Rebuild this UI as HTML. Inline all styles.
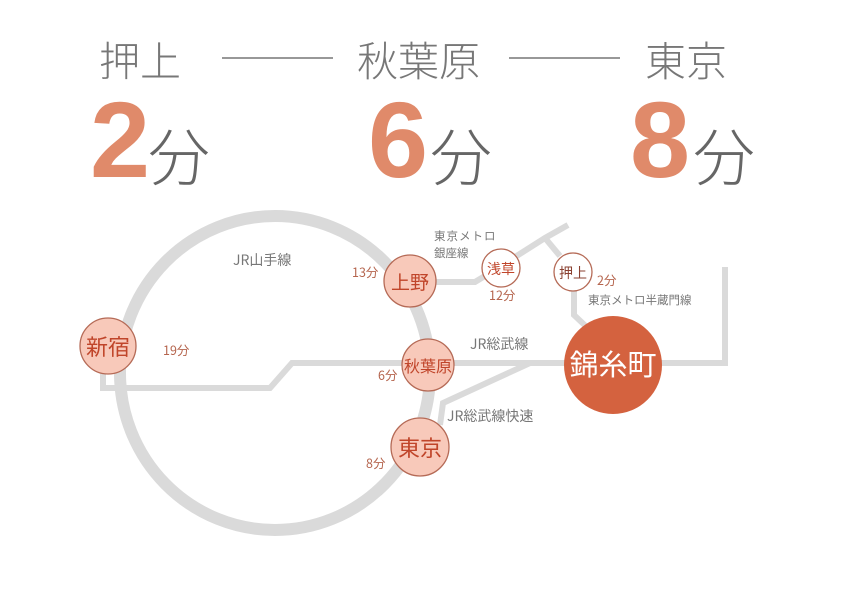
<!DOCTYPE html>
<html><head><meta charset="utf-8"><style>
html,body{margin:0;padding:0;background:#fff;}
svg{display:block;font-family:"Liberation Sans","Noto Sans CJK JP",sans-serif;}
</style></head><body>
<svg width="842" height="595" viewBox="0 0 842 595" xmlns="http://www.w3.org/2000/svg">
<rect width="842" height="595" fill="#fff"/>
<!-- header -->
<g fill="#777" font-size="41" font-family="'Noto Sans CJK JP',sans-serif" font-weight="300">
<text x="99" y="76">押上</text>
<text x="357" y="76">秋葉原</text>
<text x="645" y="76">東京</text>
</g>
<line x1="222" y1="58" x2="333" y2="58" stroke="#777" stroke-width="1.5"/>
<line x1="509" y1="58" x2="620" y2="58" stroke="#777" stroke-width="1.5"/>
<g fill="#e08a6a" font-size="108" font-weight="bold" font-family="'Liberation Sans',sans-serif">
<text x="90" y="177">2</text>
<text x="368" y="177">6</text>
<text x="630" y="177">8</text>
</g>
<g fill="#666" font-size="62" font-family="'Noto Sans CJK JP',sans-serif" font-weight="300">
<text x="148" y="180">分</text>
<text x="430" y="180">分</text>
<text x="693" y="180">分</text>
</g>
<!-- lines -->
<g fill="none" stroke="#dadada">
<ellipse cx="275" cy="373" rx="155" ry="157" stroke-width="12"/>
<polyline points="103,360 103,388 270,388 292,363 725,363 725,267" stroke-width="6"/>
<polyline points="440,425 443,403 530,363" stroke-width="6"/>
<polyline points="435,282 475,282 485,276 545,238 568,225" stroke-width="6"/>
<polyline points="545,238 560,256" stroke-width="6"/>
<polyline points="574,285 574,315 592,332" stroke-width="6"/>
</g>
<!-- stations -->
<g stroke="#b56a56" stroke-width="1.3">
<circle cx="108" cy="346" r="28" fill="#f8c9ba"/>
<circle cx="410" cy="281" r="26" fill="#f8c9ba"/>
<circle cx="428" cy="365" r="26" fill="#f8c9ba"/>
<circle cx="420" cy="447" r="29" fill="#f8c9ba"/>
<circle cx="501" cy="268" r="19" fill="#fff"/>
<circle cx="573" cy="272" r="19" fill="#fff"/>
</g>
<circle cx="613" cy="365" r="49" fill="#d4623f"/>
<g font-family="'Noto Sans CJK JP',sans-serif" text-anchor="middle" fill="#c0452a">
<text x="108" y="355" font-size="22">新宿</text>
<text x="410" y="289" font-size="19">上野</text>
<text x="428" y="372" font-size="16">秋葉原</text>
<text x="420" y="456" font-size="22">東京</text>
<text x="501" y="274" font-size="14">浅草</text>
<text x="573" y="278" font-size="14" fill="#8a4030">押上</text>
<text x="613" y="375" font-size="29" fill="#fff">錦糸町</text>
</g>
<g font-family="'Noto Sans CJK JP',sans-serif" font-size="12.5" fill="#b5654e">
<text x="163" y="355">19分</text>
<text x="352" y="277">13分</text>
<text x="378" y="380">6分</text>
<text x="366" y="468">8分</text>
<text x="489" y="300">12分</text>
<text x="597" y="285">2分</text>
</g>
<g font-family="'Noto Sans CJK JP',sans-serif" fill="#777">
<text x="233" y="265" font-size="14">JR山手線</text>
<text x="434" y="240" font-size="11.5" letter-spacing="1">東京メトロ</text>
<text x="434" y="257" font-size="11.5">銀座線</text>
<text x="588" y="304" font-size="11.5">東京メトロ半蔵門線</text>
<text x="470" y="349" font-size="14">JR総武線</text>
<text x="447" y="421" font-size="14">JR総武線快速</text>
</g>
</svg>
</body></html>
